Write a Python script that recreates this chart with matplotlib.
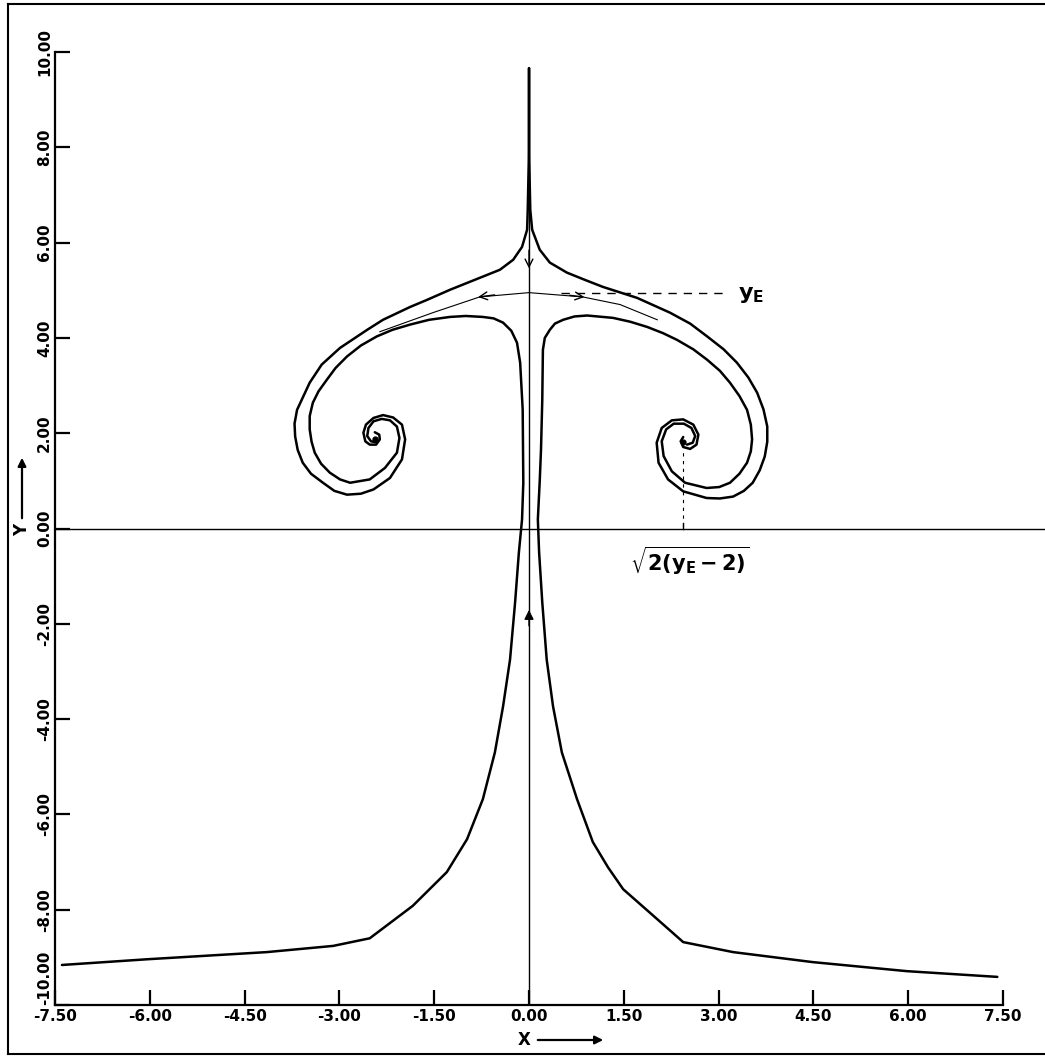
import matplotlib.pyplot as plt
from matplotlib.lines import Line2D

plt.rcParams["mathtext.default"] = "bf"

# Outer edge of the cap: from the top cusp down and round into each vortex.
cap_left_x = [0.00, 0.00, -0.02, -0.03, -0.11, -0.25, -0.46, -0.78, -1.25, -1.61, -1.88, -2.31,
              -2.56, -2.99, -3.28, -3.47, -3.67, -3.71, -3.70, -3.66, -3.58, -3.45, -3.26, -3.08,
              -2.88, -2.66, -2.46, -2.20, -2.01, -1.96, -2.01, -2.15, -2.31, -2.46, -2.58, -2.62,
              -2.59, -2.52, -2.42, -2.36, -2.37, -2.44]
cap_left_y = [9.66, 7.95, 6.69, 6.27, 5.91, 5.64, 5.43, 5.26, 5.01, 4.80, 4.65, 4.38,
              4.17, 3.79, 3.44, 3.06, 2.49, 2.20, 1.93, 1.65, 1.38, 1.15, 0.96, 0.79,
              0.71, 0.73, 0.82, 1.06, 1.45, 1.87, 2.18, 2.33, 2.38, 2.32, 2.18, 2.01,
              1.83, 1.76, 1.76, 1.87, 1.97, 2.02]
cap_right_x = [0.00, 0.00, 0.02, 0.05, 0.17, 0.33, 0.60, 0.88, 1.17, 1.71, 2.23, 2.55,
               2.82, 3.08, 3.29, 3.47, 3.61, 3.71, 3.77, 3.77, 3.73, 3.65, 3.54, 3.40,
               3.23, 3.02, 2.81, 2.44, 2.20, 2.05, 2.02, 2.10, 2.26, 2.44, 2.60, 2.68,
               2.65, 2.55, 2.44, 2.40, 2.44]
cap_right_y = [9.66, 7.95, 6.69, 6.27, 5.85, 5.58, 5.37, 5.22, 5.07, 4.84, 4.53, 4.30,
               4.03, 3.76, 3.48, 3.17, 2.85, 2.50, 2.14, 1.82, 1.51, 1.22, 0.96, 0.79,
               0.67, 0.63, 0.64, 0.78, 1.03, 1.38, 1.80, 2.11, 2.27, 2.29, 2.18, 1.97,
               1.76, 1.67, 1.71, 1.83, 1.92]

# Stem edge: from the far field below, up the stem, under the cap and into the vortex.
stem_left_x = [-7.39, -6.04, -4.15, -3.10, -2.52, -1.84, -1.30, -0.98, -0.73, -0.54, -0.41,
               -0.30, -0.22, -0.16, -0.11, -0.09, -0.10, -0.14, -0.19, -0.28, -0.41, -0.56,
               -0.73, -1.00, -1.25, -1.58, -1.88, -2.16, -2.41, -2.66, -2.88, -3.06, -3.20,
               -3.33, -3.42, -3.47, -3.47, -3.44, -3.39, -3.29, -3.15, -2.99, -2.83, -2.52,
               -2.28, -2.09, -2.05, -2.09, -2.20, -2.33, -2.46, -2.54, -2.56, -2.50, -2.42]
stem_left_y = [-9.16, -9.04, -8.89, -8.76, -8.60, -7.92, -7.21, -6.52, -5.68, -4.70, -3.73,
               -2.75, -1.55, -0.50, 0.19, 0.96, 2.50, 3.48, 3.90, 4.15, 4.32, 4.41,
               4.44, 4.46, 4.44, 4.38, 4.28, 4.17, 4.03, 3.84, 3.61, 3.37, 3.12,
               2.88, 2.64, 2.36, 2.08, 1.82, 1.59, 1.36, 1.17, 1.03, 0.96, 1.03,
               1.27, 1.59, 1.90, 2.14, 2.27, 2.30, 2.25, 2.11, 1.94, 1.83, 1.81]
stem_right_x = [7.41, 5.98, 4.49, 3.23, 2.44, 2.03, 1.49, 1.25, 1.01, 0.76, 0.52, 0.38,
                0.28, 0.21, 0.16, 0.14, 0.17, 0.19, 0.21, 0.22, 0.25, 0.33, 0.41, 0.54,
                0.72, 0.92, 1.33, 1.60, 1.87, 2.12, 2.34, 2.60, 2.82, 3.02, 3.18, 3.33,
                3.45, 3.51, 3.53, 3.51, 3.45, 3.33, 3.18, 3.01, 2.81, 2.47, 2.26, 2.13,
                2.10, 2.17, 2.29, 2.45, 2.57, 2.63, 2.59, 2.50]
stem_right_y = [-9.41, -9.29, -9.10, -8.89, -8.68, -8.20, -7.57, -7.11, -6.58, -5.68, -4.70, -3.73,
                -2.75, -1.55, -0.50, 0.19, 1.00, 1.66, 2.70, 3.75, 4.00, 4.17, 4.30, 4.38,
                4.45, 4.47, 4.42, 4.34, 4.23, 4.10, 3.96, 3.76, 3.54, 3.31, 3.06, 2.78,
                2.49, 2.18, 1.87, 1.62, 1.38, 1.15, 0.96, 0.87, 0.85, 0.96, 1.20, 1.52,
                1.83, 2.08, 2.20, 2.20, 2.11, 1.94, 1.80, 1.76]

# Thin streamline through the stagnation height
stream_x = [-2.36, -1.52, -0.78, 0.00, 0.85, 1.44, 2.03]
stream_y = [4.13, 4.53, 4.86, 4.95, 4.86, 4.70, 4.38]

vortex_x = [-2.44, 2.44]
vortex_y = [1.88, 1.82]
y_e = 4.95
spike_top = 9.66

x_ticks = [-7.5, -6.0, -4.5, -3.0, -1.5, 0.0, 1.5, 3.0, 4.5, 6.0, 7.5]
y_ticks = [-10.0, -8.0, -6.0, -4.0, -2.0, 0.0, 2.0, 4.0, 6.0, 8.0, 10.0]

W, H = 1045, 1063
fig = plt.figure(figsize=(W / 100, H / 100), dpi=100)
ax = fig.add_axes([55 / W, 1 - 1005 / H, 948 / W, 953 / H])
ax.set_xlim(-7.5, 7.5)
ax.set_ylim(-10, 10)

lw = 1.8
for xs, ys in [(cap_left_x, cap_left_y), (cap_right_x, cap_right_y),
               (stem_left_x, stem_left_y), (stem_right_x, stem_right_y)]:
    ax.plot(xs, ys, color="black", lw=lw, solid_joinstyle="round", solid_capstyle="round")
ax.plot(vortex_x, vortex_y, "o", color="black", ms=3.5)

# symmetry axis and the y = 0 reference line
ax.plot([0, 0], [-10, spike_top], color="black", lw=1.0)
ax.plot([-7.5, 8.2], [0, 0], color="black", lw=1.0, clip_on=False)

ax.plot(stream_x, stream_y, color="black", lw=0.8)
arrow_kw = dict(arrowstyle="->", color="black", lw=1.0, mutation_scale=14)
ax.annotate("", xy=(-0.85, 4.85), xytext=(-0.5, 4.91), arrowprops=arrow_kw)
ax.annotate("", xy=(0.92, 4.85), xytext=(0.6, 4.90), arrowprops=arrow_kw)
ax.annotate("", xy=(0, 5.40), xytext=(0, 5.9), arrowprops=arrow_kw)
ax.annotate("", xy=(0, -1.65), xytext=(0, -2.1),
            arrowprops=dict(arrowstyle="-|>", color="black", lw=1.0, mutation_scale=14))

# stagnation height y_E
ax.plot([0.5, 3.15], [y_e, y_e], color="black", lw=1.0, dashes=(6, 5))
ax.text(3.3, y_e - 0.05, r"$y_E$", fontsize=16, va="center", ha="left")

# vortex centre position
ax.plot([vortex_x[1], vortex_x[1]], [0.05, vortex_y[1] - 0.2], color="black", lw=0.8, dashes=(3, 4))
ax.plot([vortex_x[1], vortex_x[1]], [0, 0.12], color="black", lw=1.0)
ax.text(2.55, -0.68, r"$\sqrt{2(y_E-2)}$", fontsize=15, ha="center", va="center")

for side in ["top", "right"]:
    ax.spines[side].set_visible(False)
for side in ["left", "bottom"]:
    ax.spines[side].set_linewidth(1.6)

ax.set_xticks(x_ticks)
ax.set_xticklabels([f"{v:.2f}" for v in x_ticks], fontsize=11, fontweight="bold")
ax.set_yticks(y_ticks)
ax.set_yticklabels([f"{v:.2f}" for v in y_ticks], fontsize=11, fontweight="bold",
                   rotation=90, va="center")
ax.get_yticklabels()[0].set_va("bottom")
ax.tick_params(axis="both", direction="in", length=11, width=1.6)
ax.tick_params(axis="x", pad=3)
ax.tick_params(axis="y", pad=2)

# axis names with arrows
fig.text(524 / W, 1 - 1040 / H, "X", fontsize=12, fontweight="bold", ha="center", va="center")
fig.add_artist(plt.Annotation("", xy=(606 / W, 1 - 1040 / H), xytext=(535 / W, 1 - 1040 / H),
                              xycoords="figure fraction",
                              arrowprops=dict(arrowstyle="-|>", color="black", lw=1.6, mutation_scale=12)))
fig.text(22 / W, 1 - 530 / H, "Y", fontsize=12, fontweight="bold", rotation=90,
         ha="center", va="center")
fig.add_artist(plt.Annotation("", xy=(22 / W, 1 - 455 / H), xytext=(22 / W, 1 - 521 / H),
                              xycoords="figure fraction",
                              arrowprops=dict(arrowstyle="-|>", color="black", lw=1.6, mutation_scale=12)))

# border round the sheet
fx = lambda px: px / W
fy = lambda py: 1 - py / H
for xs, ys in [([8, 8], [4, 1054]), ([8, W], [4, 4]), ([8, W], [1054, 1054])]:
    fig.add_artist(Line2D([fx(v) for v in xs], [fy(v) for v in ys], color="black", lw=1.5))

fig.savefig("out.png", dpi=100)
